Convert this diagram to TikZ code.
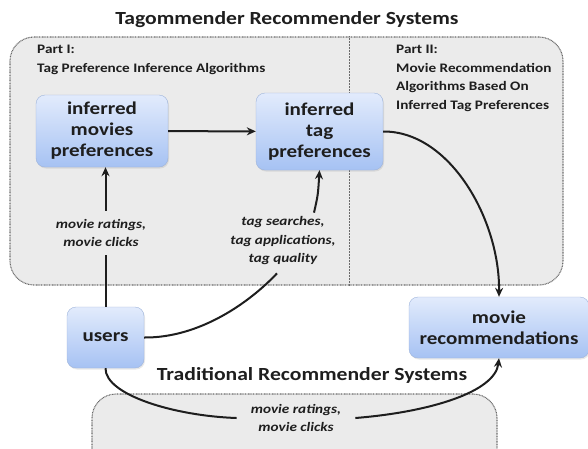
\documentclass[tikz,border=0pt]{standalone}
\usepackage{fontspec}
\setmainfont{Carlito}[FakeStretch=1.17]
\usetikzlibrary{arrows.meta, shadows}
\definecolor{panelgray}{HTML}{EBEBEB}
\definecolor{dotgray}{HTML}{6A6A6A}
\definecolor{boxtop}{HTML}{E2EBFC}
\definecolor{boxbot}{HTML}{A6C2F3}
\definecolor{boxline}{HTML}{9DB3DA}
\definecolor{ink}{HTML}{1E1E1E}
\tikzset{
    panel/.style={draw=dotgray, fill=panelgray, line width=1.1pt,
        dash pattern=on 0.9pt off 0.7pt, rounded corners=24pt},
    blk/.style={draw=boxline, top color=boxtop, bottom color=boxbot,
        rounded corners=9pt, align=center, text=ink, inner sep=0pt,
        drop shadow={opacity=0.18, shadow xshift=1pt, shadow yshift=-1.5pt},
        font=\bfseries\fontsize{18}{21}\selectfont},
    lbl/.style={fill=panelgray, align=center, text=ink,
        font=\bfseries\itshape\fontsize{13}{18.5}\selectfont},
    part/.style={anchor=north west, align=left, text=ink, inner sep=0pt,
        font=\bfseries\fontsize{13}{18.5}\selectfont},
    heading/.style={text=ink, font=\bfseries\fontsize{18.5}{22}\selectfont},
    link/.style={line width=2pt, ink},
    arr/.style={link, -{Stealth[length=9pt, width=8pt]}}
}

\begin{document}
\begin{tikzpicture}[x=1pt, y=-1pt]
    \useasboundingbox (0,0) rectangle (588,448);
    \clip (0,0) rectangle (588,448);

    % the two systems
    \node[heading] (tagtitle) at (287,20) {Tagommender Recommender Systems};
    \node[panel, minimum width=553pt, minimum height=248pt] (tagbox) at (286.5,161) {};
    \draw[dotgray, line width=0.8pt, dash pattern=on 0.7pt off 0.8pt]
        (tagbox.north -| 349,0) -- (tagbox.south -| 349,0);

    \node[heading] (tradtitle) at (312,375) {Traditional Recommender Systems};
    \node[panel, minimum width=405pt, minimum height=80pt] (tradbox) at (294.5,434) {};

    \node[part] (part1) at (37,45) {Part I:\\Tag Preference Inference Algorithms};
    \node[part] (part2) at (396,45) {Part II:\\Movie Recommendation\\Algorithms Based On\\Inferred Tag Preferences};

    % blocks
    \node[blk, minimum width=132pt, minimum height=72pt] (movpref) at (102,131)
        {inferred\\movies\\preferences};
    \node[blk, minimum width=127pt, minimum height=77pt] (tagpref) at (319.5,131.5)
        {inferred\\tag\\preferences};
    \node[blk, minimum width=77pt, minimum height=61pt] (users) at (105.5,337.5)
        {users};
    \node[blk, minimum width=180pt, minimum height=61pt] (movrec) at (499,327.5)
        {movie\\recommendations};

    % edge labels
    \node[lbl, inner xsep=4pt, inner ysep=8pt] (ratelbl) at (101,233) {movie ratings,\\movie clicks};
    \node[lbl, inner sep=4pt] (taglbl) at (283,241) {tag searches,\\tag applications,\\tag quality};
    \node[lbl, inner xsep=14pt, inner ysep=3pt] (tradlbl) at (296,418) {movie ratings,\\movie clicks};

    % edges
    \draw[arr] (movpref) -- (tagpref);
    \draw[link] (users.north) -- (ratelbl.south -| users.north);
    \draw[arr] (ratelbl.north -| users.north) -- (movpref.south -| users.north);
    \draw[link] (users.east) .. controls (200,338) and (250,302) .. ([xshift=-6pt, yshift=-4pt]taglbl.south);
    \draw[arr] ([xshift=31pt]taglbl.north) .. controls (318,195) .. (tagpref.south);
    \draw[arr] (tagpref.east) .. controls (450,131) and (500,220) .. (movrec.north);
    \draw[link] (users.south) .. controls (105,395) and (175,416) .. (tradlbl.west);
    \draw[arr] (tradlbl.east) .. controls (430,412) and (495,392) .. (movrec.south);
\end{tikzpicture}
\end{document}
